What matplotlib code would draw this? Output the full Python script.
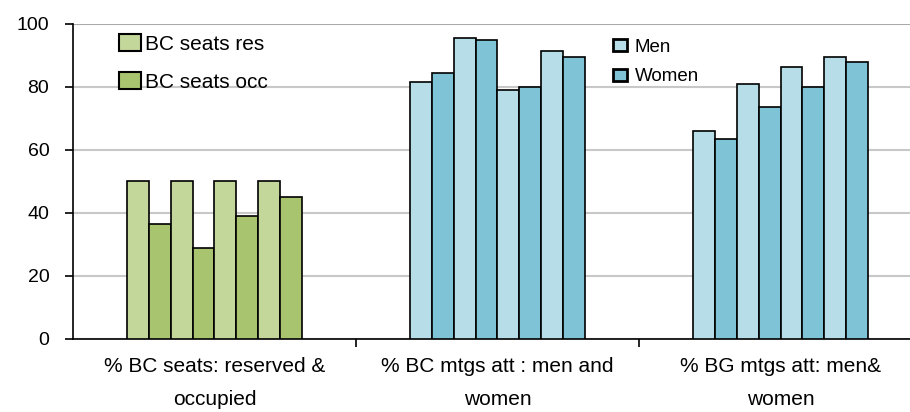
import numpy as np
import matplotlib.pyplot as plt
from matplotlib.patches import Patch

plt.rcParams['font.family'] = ['Liberation Sans', 'DejaVu Sans']

# Data (four pairs of bars per group)
categories = ['% BC seats: reserved &\noccupied',
              '% BC mtgs att : men and\nwomen',
              '% BG mtgs att: men&\nwomen']
seats_res = [50, 50, 50, 50]
seats_occ = [36.5, 29, 39, 45]
bc_men = [81.5, 95.5, 79, 91.5]
bc_women = [84.5, 95, 80, 89.5]
bg_men = [66, 81, 86.5, 89.5]
bg_women = [63.5, 73.5, 80, 88]

green_light, green_dark = '#c4d79b', '#a8c46f'
blue_light, blue_dark = '#b7dde8', '#7fc4d6'

fig = plt.figure(figsize=(9.1, 4.12), dpi=100)
ax = fig.add_axes([0.0802, 0.1772, 0.933, 0.7646])

w = 0.0774
groups = [(seats_res, seats_occ, green_light, green_dark),
          (bc_men, bc_women, blue_light, blue_dark),
          (bg_men, bg_women, blue_light, blue_dark)]
for i, (light, dark, cl, cd) in enumerate(groups):
    for j in range(4):
        ax.bar(i + (2 * j - 3.5) * w, light[j], width=w, color=cl,
               edgecolor='black', linewidth=1.2, zorder=3)
        ax.bar(i + (2 * j + 1 - 3.5) * w, dark[j], width=w, color=cd,
               edgecolor='black', linewidth=1.2, zorder=3)

ax.set_xlim(-0.5, 2.5)
ax.set_ylim(0, 100)
ax.set_yticks(np.arange(0, 101, 20))
ax.yaxis.grid(True, color='#c8c8c8', linewidth=1.5, zorder=0)
ax.set_axisbelow(True)
ax.get_ygridlines()[-1].set_color('#aaaaaa')

ax.set_xticks(range(3))
ax.set_xticklabels(categories, fontsize=15, linespacing=1.95, va='top')
ax.set_xticks([0.5, 1.5], minor=True)
ax.tick_params(axis='x', which='major', length=0, pad=13)
ax.tick_params(axis='x', which='minor', length=6, width=1.2, direction='out')
ax.tick_params(axis='y', length=6, width=1.2, pad=11, labelsize=14)

for s in ['top', 'right']:
    ax.spines[s].set_visible(False)
ax.spines['left'].set_linewidth(1.2)
ax.spines['bottom'].set_linewidth(1.2)

h1 = [Patch(facecolor=green_light, edgecolor='black', linewidth=1.5, label='BC seats res'),
      Patch(facecolor=green_dark, edgecolor='black', linewidth=1.5, label='BC seats occ')]
leg1 = fig.legend(handles=h1, loc='upper left', bbox_to_anchor=(119 / 910, 1 - 34 / 412),
                  frameon=False, fontsize=15, handlelength=1.05, handleheight=0.85,
                  handletextpad=0.2, labelspacing=0.9, borderpad=0, borderaxespad=0)

h2 = [Patch(facecolor=blue_light, edgecolor='black', linewidth=2, label='Men'),
      Patch(facecolor=blue_dark, edgecolor='black', linewidth=2, label='Women')]
leg2 = fig.legend(handles=h2, loc='upper left', bbox_to_anchor=(613 / 910, 1 - 39 / 412),
                  frameon=False, fontsize=13.5, handlelength=0.75, handleheight=0.6,
                  handletextpad=0.4, labelspacing=0.65, borderpad=0, borderaxespad=0)

fig.savefig('out.png', dpi=100)
